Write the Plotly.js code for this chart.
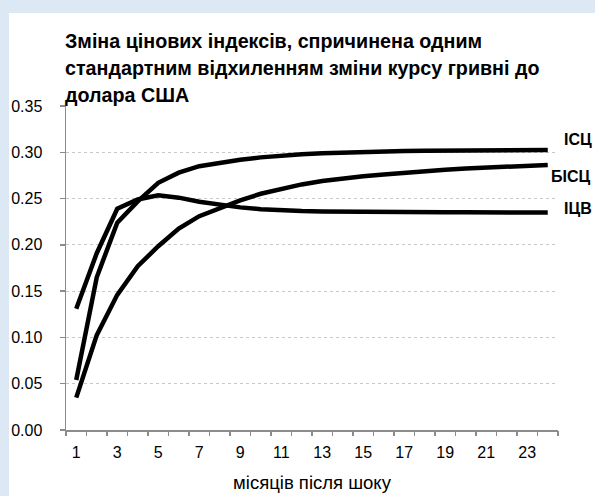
<!DOCTYPE html>
<html>
<head>
<meta charset="utf-8">
<script src="https://cdn.plot.ly/plotly-3.0.1.min.js"></script>
<style>
  html, body { margin: 0; padding: 0; background: #ffffff; }
  #chart { width: 595px; height: 496px; }
</style>
</head>
<body>
<div id="chart"></div>
<script>
const months = [1,2,3,4,5,6,7,8,9,10,11,12,13,14,15,16,17,18,19,20,21,22,23,24];
const isc  = [0.054,0.165,0.224,0.247,0.267,0.278,0.285,0.289,0.292,0.2945,0.2965,0.298,0.299,0.2998,0.3005,0.301,0.3013,0.3016,0.3019,0.3021,0.3023,0.3024,0.3025,0.3026];
const bisc = [0.035,0.1025,0.146,0.177,0.1985,0.2175,0.231,0.2395,0.248,0.2552,0.2607,0.2653,0.269,0.2721,0.274,0.276,0.278,0.2797,0.2812,0.2825,0.2837,0.2847,0.2856,0.2864];
const icv  = [0.131,0.191,0.239,0.249,0.2535,0.251,0.2465,0.243,0.2405,0.2385,0.2372,0.2365,0.236,0.2357,0.2355,0.2354,0.2353,0.2352,0.2352,0.2351,0.2351,0.2351,0.235,0.235];
const seriesNames = ['ІСЦ','БІСЦ','ІЦВ'];
const xTickVals = [1,3,5,7,9,11,13,15,17,19,21,23];
const yTickVals = [0,0.05,0.10,0.15,0.20,0.25,0.30,0.35];
const titleLines = ['Зміна цінових індексів, спричинена одним', 'стандартним відхиленням зміни курсу гривні до', 'долара США'];
const xTitle = 'місяців після шоку';

const FONT = 'Liberation Sans, Arial, sans-serif';
const W = 595, H = 496;
const M = { l: 66, r: 37, t: 106, b: 66 };
const PW = W - M.l - M.r, PH = H - M.t - M.b;
const px2x = p => (p - M.l) / PW;
const px2y = p => (H - M.b - p) / PH;

const allSeries = [isc, bisc, icv];
const traces = allSeries.map((ys, i) => ({
  x: months, y: ys, type: 'scatter', mode: 'lines', name: seriesNames[i],
  line: { color: '#000000', width: 4.5 }, hoverinfo: 'skip'
}));
// category-boundary ticks on an overlay axis
const boundaries = [];
for (let i = 0; i <= months.length; i++) boundaries.push(months[0] - 0.5 + i);
traces.push({ x: [months[0]], y: [null], xaxis: 'x2', type: 'scatter', mode: 'lines', showlegend: false, hoverinfo: 'skip' });

const labelOffsets = [ {xs: 14, ys: 10}, {xs: 1, ys: -12}, {xs: 14, ys: 4} ];
const annotations = allSeries.map((ys, i) => ({
  x: months[months.length - 1], y: ys[ys.length - 1], xref: 'x', yref: 'y',
  text: seriesNames[i], showarrow: false,
  xanchor: 'left', yanchor: 'middle', xshift: labelOffsets[i].xs, yshift: labelOffsets[i].ys,
  font: { family: FONT, size: 16, color: '#000', weight: 'bold' }
}));
// chart title: one left-aligned annotation per line
const TITLE_LEFT = 63, TITLE_TOP = 41, TITLE_LEAD = 26.8;
titleLines.forEach((line, i) => annotations.push({
  x: px2x(TITLE_LEFT), y: px2y(TITLE_TOP + i * TITLE_LEAD), xref: 'paper', yref: 'paper',
  xanchor: 'left', yanchor: 'middle', text: line, showarrow: false,
  font: { family: FONT, size: 19.7, color: '#000', weight: 'bold' }
}));

// light-blue frame strips (top and left)
const FRAME = '#dde8f5';
const shapes = [
  { type: 'rect', xref: 'paper', yref: 'paper', layer: 'below',
    x0: px2x(-5), x1: px2x(W + 5), y0: px2y(13), y1: px2y(-5), fillcolor: FRAME, line: { width: 0 } },
  { type: 'rect', xref: 'paper', yref: 'paper', layer: 'below',
    x0: px2x(-5), x1: px2x(9), y0: px2y(H + 5), y1: px2y(13), fillcolor: FRAME, line: { width: 0 } }
];

const layout = {
  width: W, height: H,
  margin: M,
  paper_bgcolor: '#ffffff', plot_bgcolor: '#ffffff',
  showlegend: false,
  font: { family: FONT, size: 16, color: '#000' },
  xaxis: {
    range: [0.5, 24.5], tickmode: 'array', tickvals: xTickVals, ticktext: xTickVals.map(String),
    ticks: '', showgrid: false, zeroline: false, showline: true, linecolor: '#8c8c8c', linewidth: 1.5,
    tickfont: { family: FONT, size: 16, color: '#000' }, ticklabelstandoff: 7,
    title: { text: xTitle, font: { family: FONT, size: 18.5, color: '#000' }, standoff: 16 },
    fixedrange: true
  },
  xaxis2: {
    overlaying: 'x', side: 'bottom', range: [0.5, 24.5], tickmode: 'array', tickvals: boundaries,
    ticks: 'outside', ticklen: 5, tickcolor: '#8c8c8c', tickwidth: 1.5, showticklabels: false,
    showgrid: false, zeroline: false, showline: false, fixedrange: true
  },
  yaxis: {
    range: [0, 0.35], tickmode: 'array', tickvals: yTickVals, ticktext: yTickVals.map(v => v.toFixed(2)),
    ticks: 'outside', ticklen: 5, tickcolor: '#8c8c8c', tickwidth: 1.5,
    showline: true, linecolor: '#8c8c8c', linewidth: 1.5, zeroline: false,
    showgrid: true, gridcolor: '#c8c8c8', gridwidth: 1, griddash: 'dot',
    tickfont: { family: FONT, size: 16, color: '#000' }, ticklabelstandoff: 14,
    fixedrange: true
  },
  shapes: shapes,
  annotations: annotations
};

Plotly.newPlot('chart', traces, layout, { displayModeBar: false, staticPlot: true });
</script>
</body>
</html>
